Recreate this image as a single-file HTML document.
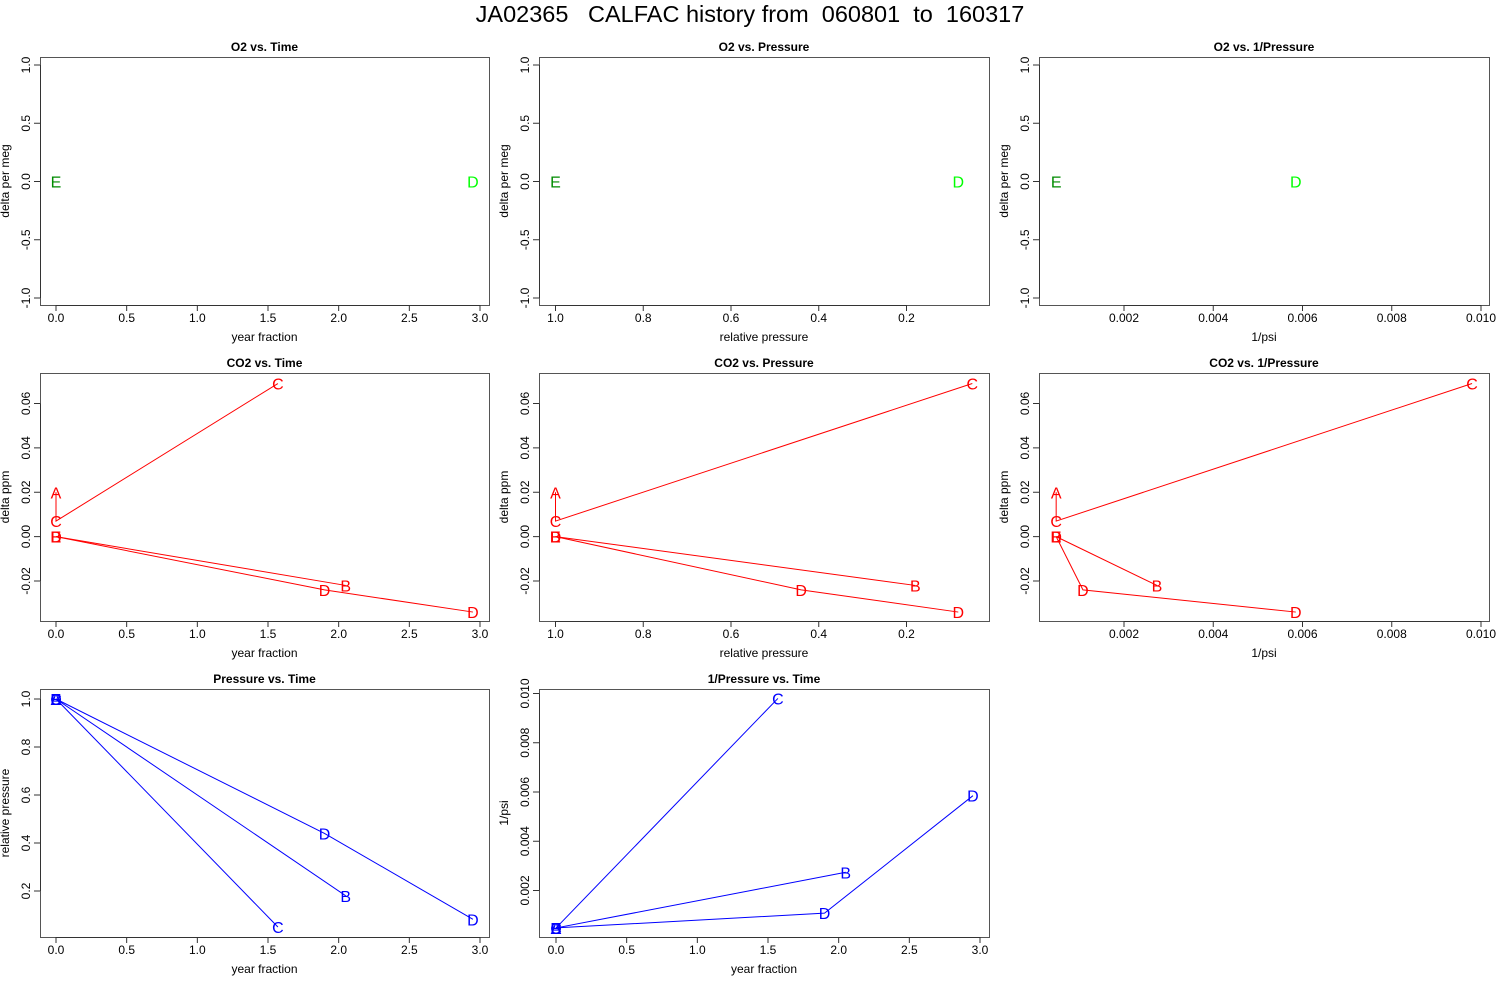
<!DOCTYPE html>
<html><head><meta charset="utf-8"><style>
html,body{margin:0;padding:0;background:#fff;}
svg{display:block;font-family:"Liberation Sans",Arial,sans-serif;}
text{white-space:pre;}
</style></head><body>
<svg id="chart" width="1500" height="1000" viewBox="0 0 1500 1000">
<rect width="1500" height="1000" fill="#fff"/>
<text x="750" y="22" font-size="23.5" text-anchor="middle" xml:space="preserve" style="white-space:pre">JA02365   CALFAC history from  060801  to  160317</text>
</svg>
<script>
// ---- data (estimated from reference) ----
const labels    = ['A','C','C','B','B','D','D','D','E'];
const series    = [ 0,  0,  0,  1,  1,  2,  2,  2,  3 ]; // polyline group
const yearFrac  = [0, 0, 1.57, 0, 2.05, 0, 1.90, 2.95, 0];
const relPress  = [1.0, 1.0, 0.05, 1.0, 0.18, 1.0, 0.44, 0.082, 1.0];
const invPsi    = [0.00048, 0.00048, 0.0098, 0.00048, 0.00274, 0.00048, 0.00108, 0.00585, 0.00048];
const co2Delta  = [0.020, 0.007, 0.069, 0.0, -0.022, 0.0, -0.024, -0.034, 0.0];
const o2Labels  = ['E','D'];
const o2Time    = [0, 2.95];
const o2Press   = [1.0, 0.082];
const o2Inv     = [0.00048, 0.00585];
const o2Delta   = [0, 0];
const o2Colors  = ['#008b00','#00ff00'];
const timeTicks = [0,0.5,1,1.5,2,2.5,3];
const timeTickLabels = ['0.0','0.5','1.0','1.5','2.0','2.5','3.0'];
const pressTicks = [1.0,0.8,0.6,0.4,0.2];
const pressTickLabels = ['1.0','0.8','0.6','0.4','0.2'];
const invTicks = [0.002,0.004,0.006,0.008,0.010];
const invTickLabels = ['0.002','0.004','0.006','0.008','0.010'];
const o2Ticks = [-1,-0.5,0,0.5,1];
const o2TickLabels = ['-1.0','-0.5','0.0','0.5','1.0'];
const co2Ticks = [-0.02,0,0.02,0.04,0.06];
const co2TickLabels = ['-0.02','0.00','0.02','0.04','0.06'];

const NS='http://www.w3.org/2000/svg';
const svg=document.getElementById('chart');
function el(tag,attrs,parent){const e=document.createElementNS(NS,tag);for(const k in attrs)e.setAttribute(k,attrs[k]);(parent||svg).appendChild(e);return e;}
function lin(d0,p0,d1,p1){return v=>p0+(v-d0)*(p1-p0)/(d1-d0);}

const sTime  = lin(0,56,3,480);
const sPress = lin(1,555.5,0.2,906.5);
const sInvX  = lin(0.002,1124,0.010,1481);
const sO2    = lin(1,65,-1,298);
const sCO2   = lin(0.06,403.5,-0.02,581);
const sPressY= lin(1,699,0.2,891);
const sInvY  = lin(0.010,693.5,0.002,890.5);

function panel(cfg){
  const g=el('g',{},svg);
  
  
  const [x0,y0,x1,y1]=cfg.box;
  const r=el('rect',{x:x0+0.5,y:y0+0.5,width:x1-x0,height:y1-y0,fill:'none',stroke:'#555','stroke-width':1},g);
  
  
  const t=el('text',{x:(x0+x1)/2,y:y0-6,'font-size':12,'font-weight':'bold','text-anchor':'middle'},g);
  t.textContent=cfg.title;
  
  
  const xa=el('g',{},g);
  
  
  const xs=cfg.xticks.map(cfg.sx);
  el('line',{x1:Math.min(...xs),x2:Math.max(...xs),y1:y1+0.5,y2:y1+0.5,stroke:'#333'},xa);
  cfg.xticks.forEach((v,i)=>{const x=cfg.sx(v);
    el('line',{x1:x,x2:x,y1:y1,y2:y1+6,stroke:'#333'},xa);
    const tl=el('text',{x:x,y:y1+17,'font-size':12,'text-anchor':'middle'},xa);tl.textContent=cfg.xlabels[i];
    
    
  });
  const xt=el('text',{x:(x0+x1)/2,y:y1+36,'font-size':12,'text-anchor':'middle'},g);xt.textContent=cfg.xtitle;
  
  
  const ya=el('g',{},g);
  
  
  const ys=cfg.yticks.map(cfg.sy);
  el('line',{x1:x0+0.5,x2:x0+0.5,y1:Math.min(...ys),y2:Math.max(...ys),stroke:'#333'},ya);
  cfg.yticks.forEach((v,i)=>{const y=cfg.sy(v);
    el('line',{x1:x0-6,x2:x0,y1:y,y2:y,stroke:'#333'},ya);
    const tl=el('text',{x:0,y:0,'font-size':12,'text-anchor':'middle',transform:`translate(${x0-10},${y}) rotate(-90)`},ya);tl.textContent=cfg.ylabels[i];
    
    
  });
  const yt=el('text',{x:0,y:0,'font-size':12,'text-anchor':'middle',transform:`translate(${x0-31},${(y0+y1)/2}) rotate(-90)`},g);yt.textContent=cfg.ytitle;
  
  
  if(cfg.lines){
    const groups={};
    cfg.xv.forEach((v,i)=>{(groups[series[i]]=groups[series[i]]||[]).push(i);});
    Object.keys(groups).forEach(k=>{const idx=groups[k];if(idx.length<2)return;
      const p=el('polyline',{points:idx.map(i=>cfg.sx(cfg.xv[i])+','+cfg.sy(cfg.yv[i])).join(' '),fill:'none',stroke:cfg.color,'stroke-width':1},g);
      
      
    });
  }
  cfg.xv.forEach((v,i)=>{
    const tx=el('text',{x:cfg.sx(v),y:cfg.sy(cfg.yv[i])+6,'font-size':16,'text-anchor':'middle',fill:cfg.colors?cfg.colors[i]:cfg.color},g);
    tx.textContent=cfg.pl[i];
    
    
  });
}
function off(s,d){return v=>s(v)+d;}

panel({name:'o2-vs-time',box:[40,57,489,305],title:'O2 vs. Time',sx:sTime,sy:sO2,xticks:timeTicks,xlabels:timeTickLabels,yticks:o2Ticks,ylabels:o2TickLabels,xtitle:'year fraction',ytitle:'delta per meg',xv:o2Time,yv:o2Delta,pl:o2Labels,colors:o2Colors,lines:false});
panel({name:'o2-vs-pressure',box:[539,57,989,305],title:'O2 vs. Pressure',sx:sPress,sy:sO2,xticks:pressTicks,xlabels:pressTickLabels,yticks:o2Ticks,ylabels:o2TickLabels,xtitle:'relative pressure',ytitle:'delta per meg',xv:o2Press,yv:o2Delta,pl:o2Labels,colors:o2Colors,lines:false});
panel({name:'o2-vs-inv-pressure',box:[1039,57,1489,305],title:'O2 vs. 1/Pressure',sx:sInvX,sy:sO2,xticks:invTicks,xlabels:invTickLabels,yticks:o2Ticks,ylabels:o2TickLabels,xtitle:'1/psi',ytitle:'delta per meg',xv:o2Inv,yv:o2Delta,pl:o2Labels,colors:o2Colors,lines:false});
panel({name:'co2-vs-time',box:[40,373,489,621],title:'CO2 vs. Time',sx:sTime,sy:sCO2,xticks:timeTicks,xlabels:timeTickLabels,yticks:co2Ticks,ylabels:co2TickLabels,xtitle:'year fraction',ytitle:'delta ppm',xv:yearFrac,yv:co2Delta,pl:labels,color:'#ff0000',lines:true});
panel({name:'co2-vs-pressure',box:[539,373,989,621],title:'CO2 vs. Pressure',sx:sPress,sy:sCO2,xticks:pressTicks,xlabels:pressTickLabels,yticks:co2Ticks,ylabels:co2TickLabels,xtitle:'relative pressure',ytitle:'delta ppm',xv:relPress,yv:co2Delta,pl:labels,color:'#ff0000',lines:true});
panel({name:'co2-vs-inv-pressure',box:[1039,373,1489,621],title:'CO2 vs. 1/Pressure',sx:sInvX,sy:sCO2,xticks:invTicks,xlabels:invTickLabels,yticks:co2Ticks,ylabels:co2TickLabels,xtitle:'1/psi',ytitle:'delta ppm',xv:invPsi,yv:co2Delta,pl:labels,color:'#ff0000',lines:true});
panel({name:'pressure-vs-time',box:[40,689,489,937],title:'Pressure vs. Time',sx:sTime,sy:sPressY,xticks:timeTicks,xlabels:timeTickLabels,yticks:[1.0,0.8,0.6,0.4,0.2],ylabels:['1.0','0.8','0.6','0.4','0.2'],xtitle:'year fraction',ytitle:'relative pressure',xv:yearFrac,yv:relPress,pl:labels,color:'#0000ff',lines:true});
panel({name:'inv-pressure-vs-time',box:[539,689,989,937],title:'1/Pressure vs. Time',sx:off(sTime,500),sy:sInvY,xticks:timeTicks,xlabels:timeTickLabels,yticks:invTicks,ylabels:invTickLabels,xtitle:'year fraction',ytitle:'1/psi',xv:yearFrac,yv:invPsi,pl:labels,color:'#0000ff',lines:true});
</script>
</body></html>
